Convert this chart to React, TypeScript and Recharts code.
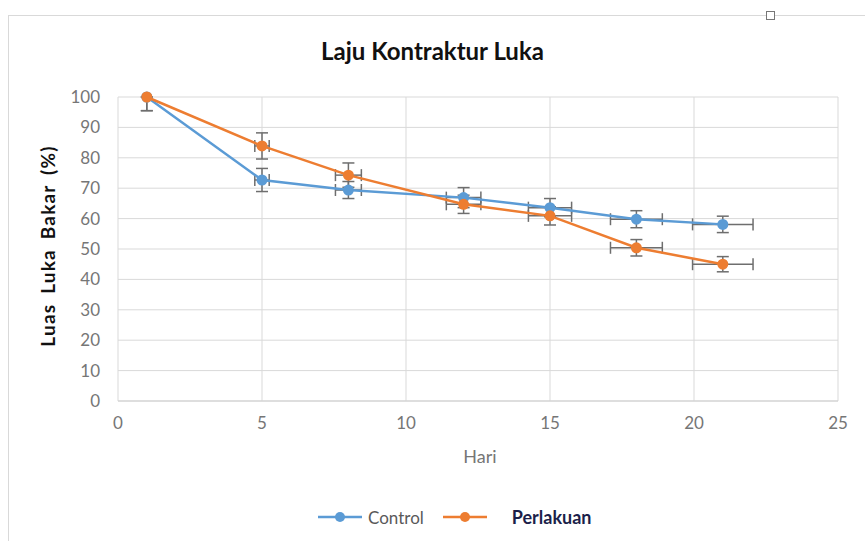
import React from 'react';
import {
  ScatterChart,
  Scatter,
  XAxis,
  YAxis,
  ZAxis,
  CartesianGrid,
  ErrorBar
} from 'recharts';

const days = [1, 5, 8, 12, 15, 18, 21];
const controlValues = [100, 72.7, 69.4, 66.9, 63.6, 59.8, 58.1];
const perlakuanValues = [100, 83.9, 74.3, 64.7, 60.9, 50.4, 45.0];
const controlErrY: (number | number[])[] = [[4.5, 0], 3.8, 2.8, 3.3, 3.0, 2.8, 2.7];
const perlakuanErrY: (number | number[])[] = [[4.5, 0], 4.3, 4.0, 3.0, 3.0, 2.7, 2.5];
const controlErrX = [0, 0.25, 0.45, 0.6, 0.75, 0.9, 1.05];
const perlakuanErrX = [0, 0.25, 0.45, 0.6, 0.75, 0.9, 1.05];
const xTicks = [0, 5, 10, 15, 20, 25];
const yTicks = [0, 10, 20, 30, 40, 50, 60, 70, 80, 90, 100];

const controlData = days.map((d, i) => ({ x: d, y: controlValues[i], ex: controlErrX[i], ey: controlErrY[i] }));
const perlakuanData = days.map((d, i) => ({ x: d, y: perlakuanValues[i], ex: perlakuanErrX[i], ey: perlakuanErrY[i] }));

const BLUE = '#5b9bd5';
const ORANGE = '#ed7d31';
const ERR = '#6e6e6e';
const TICK = '#767676';
const FONT = 'Lato, "Open Sans", sans-serif';

const Dot = (color: string) => (props: any) => (
  <circle cx={props.cx} cy={props.cy} r={5.5} fill={color} />
);

export default function App() {
  return (
    <div style={{ position: 'absolute', left: 0, top: 0, width: 865, height: 541, background: '#fff', overflow: 'hidden', fontFamily: FONT }}>
      {/* chart frame */}
      <div style={{ position: 'absolute', left: 8, top: 15, width: 870, height: 540, border: '1px solid #d9d9d9', boxSizing: 'border-box' }} />
      <div style={{ position: 'absolute', left: 766, top: 11, width: 7, height: 7, border: '1px solid #777', background: '#fff' }} />

      <div style={{ position: 'absolute', left: 0, width: 865, top: 37, textAlign: 'center', fontSize: 24, fontWeight: 700, color: '#111', lineHeight: '28px' }}>
        Laju Kontraktur Luka
      </div>

      <div style={{ position: 'absolute', left: 47, top: 246, transform: 'translate(-50%, -50%) rotate(-90deg)', whiteSpace: 'nowrap', fontSize: 19, fontWeight: 700, color: '#111', letterSpacing: 1.2, wordSpacing: 4 }}>
        Luas Luka Bakar (%)
      </div>

      <div style={{ position: 'absolute', left: 480, top: 445, transform: 'translateX(-50%)', fontSize: 18, color: TICK }}>
        Hari
      </div>

      <div style={{ position: 'absolute', left: 0, top: 0 }}>
        <ScatterChart width={865} height={541} margin={{ top: 97, right: 27, bottom: 80, left: 60 }}>
          <CartesianGrid stroke="#d9d9d9" strokeWidth={1} />
          <XAxis
            type="number"
            dataKey="x"
            domain={[0, 25]}
            ticks={xTicks}
            height={60}
            tickLine={false}
            tickMargin={10}
            axisLine={{ stroke: '#d0d0d0' }}
            tick={{ fill: TICK, fontSize: 17, fontFamily: FONT }}
          />
          <YAxis
            type="number"
            dataKey="y"
            domain={[0, 100]}
            ticks={yTicks}
            width={58}
            tickLine={false}
            tickMargin={12}
            axisLine={false}
            tick={{ fill: TICK, fontSize: 17, fontFamily: FONT }}
          />
          <ZAxis range={[100, 100]} />
          <Scatter
            name="Control"
            data={controlData}
            line={{ stroke: BLUE, strokeWidth: 2.5 }}
            shape={Dot(BLUE)}
            isAnimationActive={false}
          >
            <ErrorBar dataKey="ey" direction="y" width={6} stroke={ERR} strokeWidth={1.5} />
            <ErrorBar dataKey="ex" direction="x" width={6} stroke={ERR} strokeWidth={1.5} />
          </Scatter>
          <Scatter
            name="Perlakuan"
            data={perlakuanData}
            line={{ stroke: ORANGE, strokeWidth: 2.5 }}
            shape={Dot(ORANGE)}
            isAnimationActive={false}
          >
            <ErrorBar dataKey="ey" direction="y" width={6} stroke={ERR} strokeWidth={1.5} />
            <ErrorBar dataKey="ex" direction="x" width={6} stroke={ERR} strokeWidth={1.5} />
          </Scatter>
        </ScatterChart>
      </div>

      {/* legend */}
      <div style={{ position: 'absolute', top: 506, left: 318, display: 'flex', alignItems: 'center', height: 22 }}>
        <svg width={44} height={20}>
          <line x1={0} y1={10} x2={44} y2={10} stroke={BLUE} strokeWidth={2.5} />
          <circle cx={22} cy={10} r={5} fill={BLUE} />
        </svg>
        <span style={{ marginLeft: 6, color: '#595959', fontSize: 17 }}>Control</span>
        <svg width={44} height={20} style={{ marginLeft: 19 }}>
          <line x1={0} y1={10} x2={44} y2={10} stroke={ORANGE} strokeWidth={2.5} />
          <circle cx={22} cy={10} r={5} fill={ORANGE} />
        </svg>
        <span style={{ marginLeft: 25, color: '#1c1f4a', fontWeight: 700, fontSize: 18 }}>Perlakuan</span>
      </div>
    </div>
  );
}
